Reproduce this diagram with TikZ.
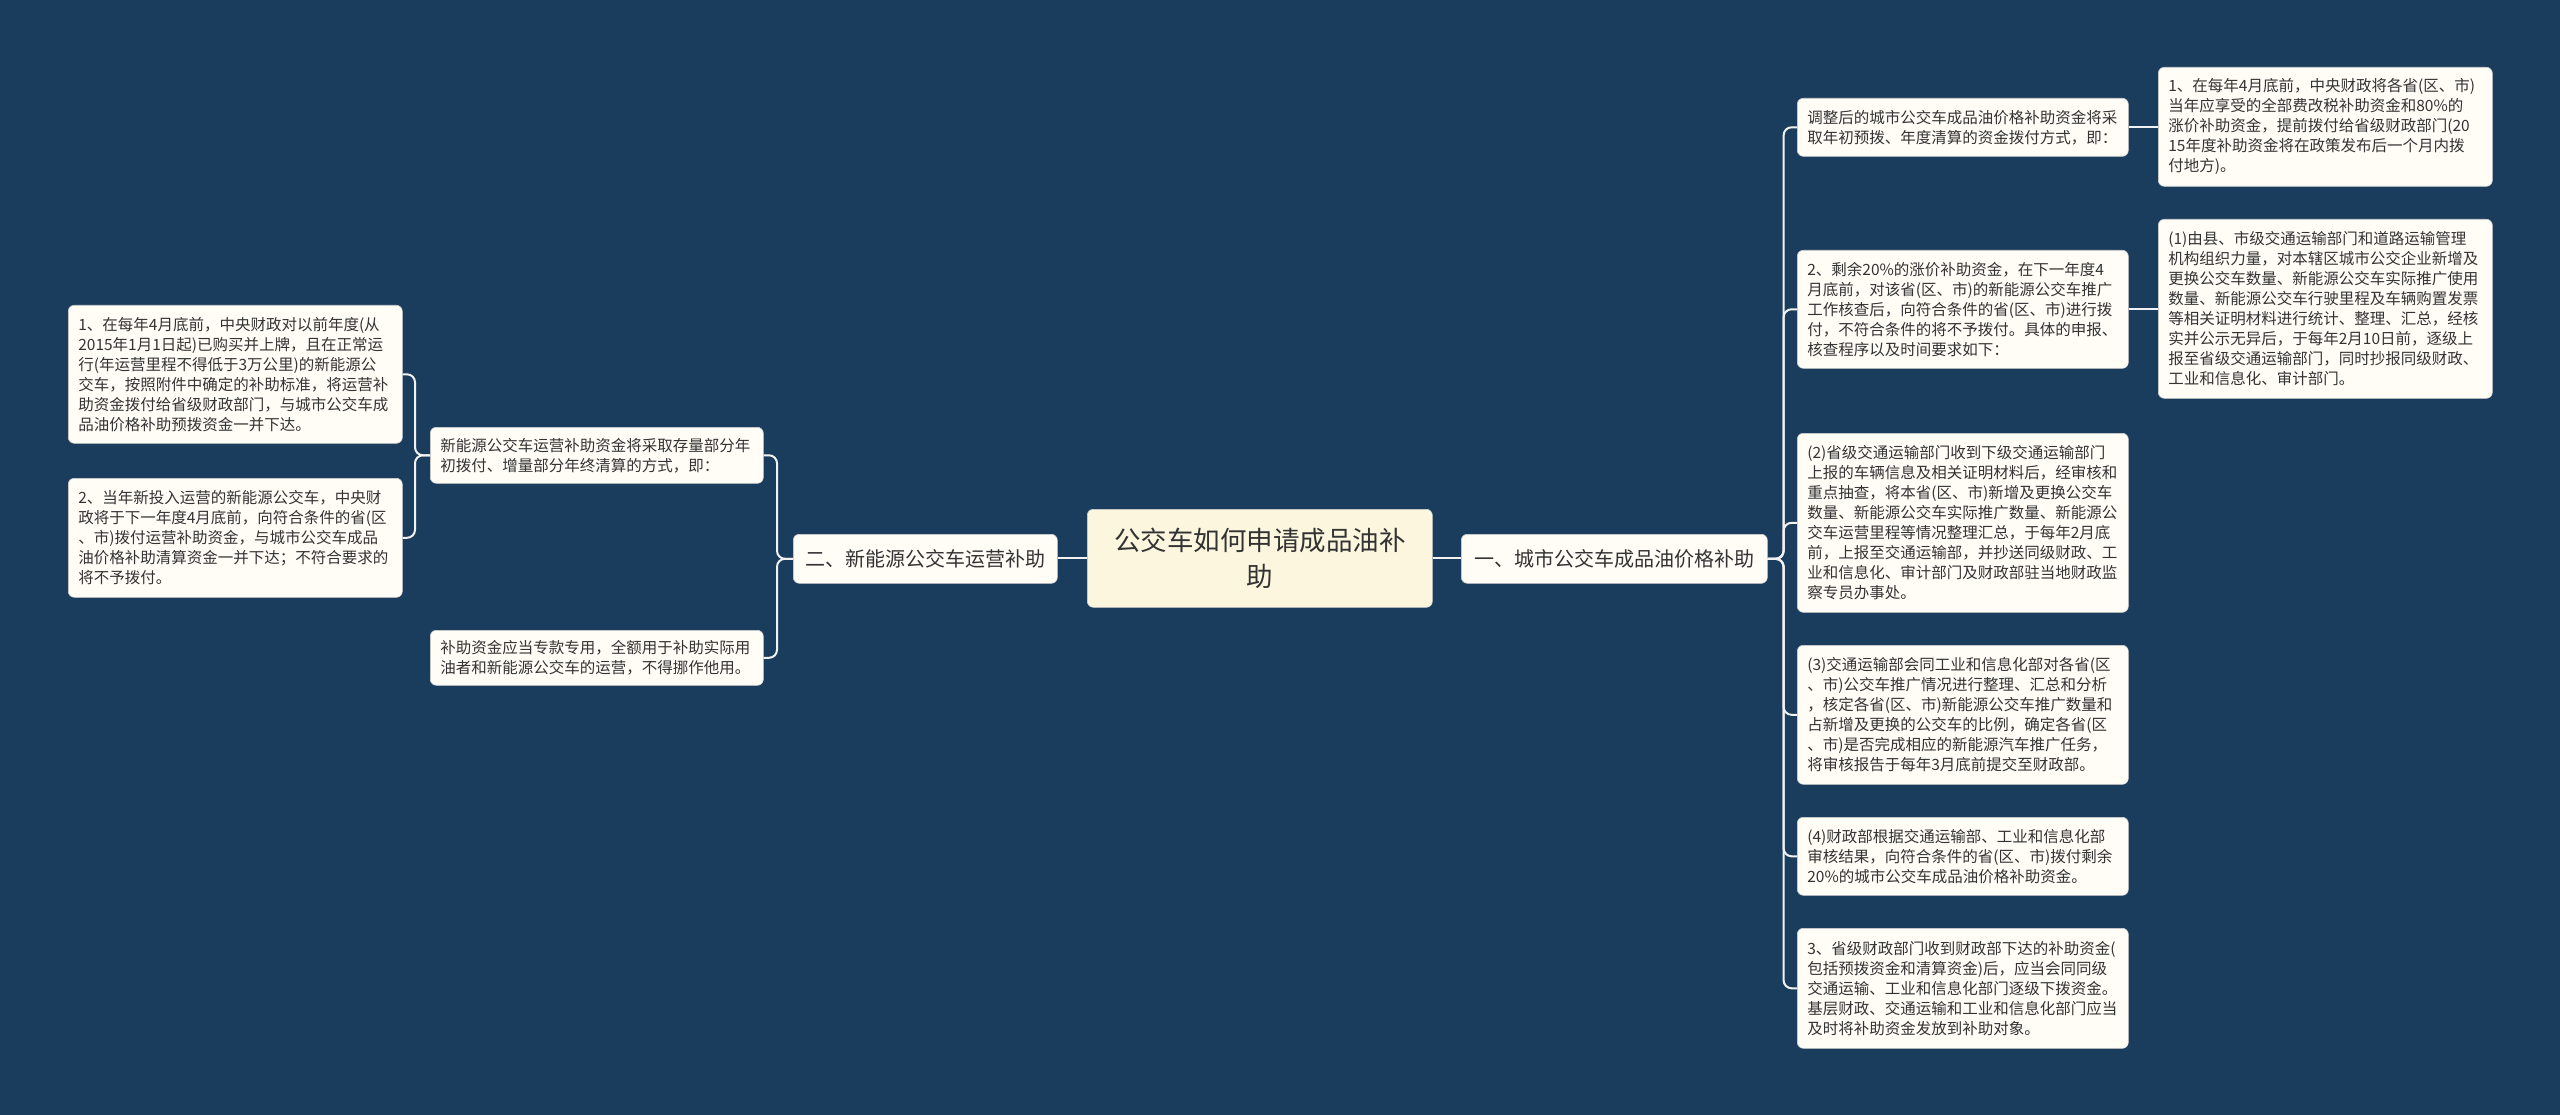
\documentclass[tikz,border=0pt]{standalone}
\usepackage{fontspec}
\newfontfamily\cjk{Noto Sans CJK SC}
\definecolor{bg}{HTML}{1B3D5D}
\definecolor{leaffill}{HTML}{FFFDF6}
\definecolor{rootfill}{HTML}{FDF6DF}
\definecolor{txt}{HTML}{333333}
\definecolor{linkc}{HTML}{F2F2F2}
\definecolor{boxline}{HTML}{D0D0D0}
\tikzset{
  leaf/.style={draw=boxline, line width=0.6pt, fill=leaffill, rounded corners=6pt,
    font=\cjk\fontsize{15.5}{20}\selectfont, text=txt, align=left,
    inner xsep=10pt, inner ysep=0pt, anchor=north west},
  midbox/.style={draw=boxline, line width=0.6pt, fill=leaffill, rounded corners=6pt,
    font=\cjk\fontsize{20}{26}\selectfont, text=txt, align=center,
    inner sep=0pt, anchor=north west},
  rootbox/.style={draw=boxline, line width=0.6pt, fill=rootfill, rounded corners=6pt,
    font=\cjk\fontsize{26.5}{36}\selectfont, text=txt, align=center,
    inner sep=0pt, anchor=north west},
  link/.style={draw=linkc, line width=2pt, rounded corners=8pt},
}
\begin{document}
\begin{tikzpicture}[x=1pt,y=-1pt]
\fill[bg] (0,0) rectangle (2560,1115);
\useasboundingbox (0,0) rectangle (2560,1115);

% root
\node[rootbox, minimum width=345pt, minimum height=98pt] (root) at (1087,509) {公交车如何申请成品油补\\助};

% level 1
\node[midbox, minimum width=306pt, minimum height=49pt] (r1) at (1461,534) {一、城市公交车成品油价格补助};
\node[midbox, minimum width=264pt, minimum height=49pt] (l1) at (793,534) {二、新能源公交车运营补助};

% right level 2
\node[leaf, text width=311pt, minimum height=58pt] (ra) at (1797,98) {调整后的城市公交车成品油价格补助资金将采\\取年初预拨、年度清算的资金拨付方式，即：};
\node[leaf, text width=311pt, minimum height=118pt] (rb) at (1797,250) {2、剩余20\%的涨价补助资金，在下一年度4\\月底前，对该省(区、市)的新能源公交车推广\\工作核查后，向符合条件的省(区、市)进行拨\\付，不符合条件的将不予拨付。具体的申报、\\核查程序以及时间要求如下：};
\node[leaf, text width=311pt, minimum height=179pt] (rc) at (1797,433) {(2)省级交通运输部门收到下级交通运输部门\\上报的车辆信息及相关证明材料后，经审核和\\重点抽查，将本省(区、市)新增及更换公交车\\数量、新能源公交车实际推广数量、新能源公\\交车运营里程等情况整理汇总，于每年2月底\\前，上报至交通运输部，并抄送同级财政、工\\业和信息化、审计部门及财政部驻当地财政监\\察专员办事处。};
\node[leaf, text width=311pt, minimum height=139pt] (rd) at (1797,645) {(3)交通运输部会同工业和信息化部对各省(区\\、市)公交车推广情况进行整理、汇总和分析\\，核定各省(区、市)新能源公交车推广数量和\\占新增及更换的公交车的比例，确定各省(区\\、市)是否完成相应的新能源汽车推广任务，\\将审核报告于每年3月底前提交至财政部。};
\node[leaf, text width=311pt, minimum height=78pt] (re) at (1797,817) {(4)财政部根据交通运输部、工业和信息化部\\审核结果，向符合条件的省(区、市)拨付剩余\\20\%的城市公交车成品油价格补助资金。};
\node[leaf, text width=311pt, minimum height=120pt] (rf) at (1797,928) {3、省级财政部门收到财政部下达的补助资金(\\包括预拨资金和清算资金)后，应当会同同级\\交通运输、工业和信息化部门逐级下拨资金。\\基层财政、交通运输和工业和信息化部门应当\\及时将补助资金发放到补助对象。};

% right level 3
\node[leaf, text width=314pt, minimum height=119pt] (raa) at (2158,67) {1、在每年4月底前，中央财政将各省(区、市)\\当年应享受的全部费改税补助资金和80\%的\\涨价补助资金，提前拨付给省级财政部门(20\\15年度补助资金将在政策发布后一个月内拨\\付地方)。};
\node[leaf, text width=314pt, minimum height=179pt] (rba) at (2158,219) {(1)由县、市级交通运输部门和道路运输管理\\机构组织力量，对本辖区城市公交企业新增及\\更换公交车数量、新能源公交车实际推广使用\\数量、新能源公交车行驶里程及车辆购置发票\\等相关证明材料进行统计、整理、汇总，经核\\实并公示无异后，于每年2月10日前，逐级上\\报至省级交通运输部门，同时抄报同级财政、\\工业和信息化、审计部门。};

% left level 2
\node[leaf, text width=313pt, minimum height=56pt] (la) at (430,427) {新能源公交车运营补助资金将采取存量部分年\\初拨付、增量部分年终清算的方式，即：};
\node[leaf, text width=313pt, minimum height=55pt] (lb) at (430,630) {补助资金应当专款专用，全额用于补助实际用\\油者和新能源公交车的运营，不得挪作他用。};

% left level 3
\node[leaf, text width=314pt, minimum height=138pt] (laa) at (68,305) {1、在每年4月底前，中央财政对以前年度(从\\2015年1月1日起)已购买并上牌，且在正常运\\行(年运营里程不得低于3万公里)的新能源公\\交车，按照附件中确定的补助标准，将运营补\\助资金拨付给省级财政部门，与城市公交车成\\品油价格补助预拨资金一并下达。};
\node[leaf, text width=314pt, minimum height=119pt] (lab) at (68,478) {2、当年新投入运营的新能源公交车，中央财\\政将于下一年度4月底前，向符合条件的省(区\\、市)拨付运营补助资金，与城市公交车成品\\油价格补助清算资金一并下达；不符合要求的\\将不予拨付。};

% connectors
\draw[link] (root.east) -- (r1.west |- root.east);
\draw[link] (root.west) -- (l1.east |- root.west);
\foreach \t in {ra,rb,rc,rd,re,rf}{
  \draw[link] (r1.east) -- ++(16,0) |- (\t.west);
}
\draw[link] (ra.east) -- (raa.west |- ra.east);
\draw[link] (rb.east) -- (rba.west |- rb.east);
\foreach \t in {la,lb}{
  \draw[link] (l1.west) -- ++(-16,0) |- (\t.east);
}
\foreach \t in {laa,lab}{
  \draw[link] (la.west) -- ++(-15,0) |- (\t.east);
}
\end{tikzpicture}
\end{document}
